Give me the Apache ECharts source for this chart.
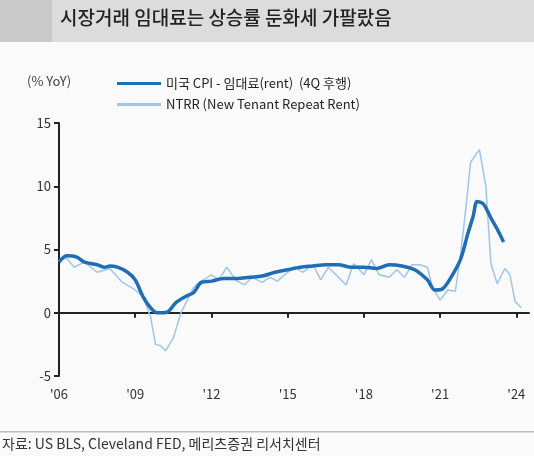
<!DOCTYPE html>
<html><head><meta charset="utf-8">
<script src="https://cdn.jsdelivr.net/npm/echarts@6/dist/echarts.min.js"></script>
<style>html,body{margin:0;padding:0;background:#fafafa}#c{width:534px;height:456px}</style>
</head><body><div id="c"></div>
<script>
const cpiYears=[2006.0,2006.3,2006.7,2007.0,2007.5,2007.8,2008.0,2008.3,2008.7,2009.0,2009.3,2009.6,2009.85,2010.0,2010.3,2010.6,2011.0,2011.3,2011.6,2012.0,2012.5,2013.0,2013.5,2014.0,2014.5,2015.0,2015.5,2016.0,2016.5,2017.0,2017.5,2018.0,2018.5,2019.0,2019.5,2020.0,2020.5,2020.8,2021.1,2021.4,2021.8,2022.1,2022.3,2022.46,2022.7,2023.0,2023.25,2023.5];
const cpiRent=[4.0,4.5,4.4,4.0,3.8,3.6,3.7,3.6,3.2,2.6,1.3,0.4,0.0,0.0,0.1,0.8,1.3,1.6,2.4,2.5,2.7,2.7,2.8,2.9,3.2,3.4,3.6,3.7,3.8,3.8,3.6,3.6,3.5,3.8,3.7,3.4,2.6,1.8,1.9,2.7,4.2,6.3,7.6,8.8,8.6,7.5,6.6,5.6];
const ntrrYears=[2006.0,2006.3,2006.6,2007.0,2007.5,2008.0,2008.5,2009.0,2009.3,2009.6,2009.8,2010.0,2010.2,2010.5,2010.8,2011.0,2011.3,2011.6,2012.0,2012.3,2012.6,2013.0,2013.3,2013.6,2014.0,2014.3,2014.6,2015.0,2015.3,2015.6,2016.0,2016.3,2016.6,2017.0,2017.3,2017.6,2018.0,2018.3,2018.6,2019.0,2019.3,2019.6,2019.9,2020.2,2020.5,2020.7,2021.0,2021.3,2021.6,2021.8,2022.0,2022.2,2022.55,2022.8,2023.0,2023.25,2023.55,2023.75,2023.95,2024.2];
const ntrr=[4.2,4.3,3.6,4.0,3.2,3.5,2.4,1.8,1.3,-0.3,-2.5,-2.6,-3.0,-2.0,0.0,0.8,2.0,2.5,3.0,2.6,3.6,2.5,2.2,2.8,2.4,2.8,2.5,3.2,3.6,3.2,3.8,2.6,3.6,2.8,2.2,3.9,3.0,4.2,3.0,2.8,3.4,2.8,3.8,3.8,3.6,2.0,1.0,1.8,1.7,4.5,8.0,11.9,12.9,10.0,3.9,2.3,3.5,3.0,0.9,0.4];
const seriesNames=['미국 CPI - 임대료(rent)  (4Q 후행)','NTRR (New Tenant Repeat Rent)'];
const xTickLabels={2006:"'06",2009:"'09",2012:"'12",2015:"'15",2018:"'18",2021:"'21",2024:"'24"};
const zip=(a,b)=>a.map((x,i)=>[x,b[i]]);
const ch=echarts.init(document.getElementById('c'));
const F='"Noto Sans CJK KR","Noto Sans",sans-serif';
ch.setOption({
  backgroundColor:'#fafafa',
  textStyle:{fontFamily:F},
  graphic:[
    {type:'rect',shape:{x:0,y:0,width:534,height:42},style:{fill:'#dcdcdc'}},
    {type:'rect',shape:{x:0,y:0,width:52,height:42},style:{fill:'#c9c9c9'}},
    {type:'text',left:60,top:8,style:{text:'시장거래 임대료는 상승률 둔화세 가팔랐음',font:'500 19px '+F,fill:'#222'}},
    {type:'text',left:27,top:75,style:{text:'(% YoY)',font:'13px '+F,fill:'#444'}},
    {type:'rect',shape:{x:0,y:431,width:534,height:1.5},style:{fill:'#bbb'}},
    {type:'text',left:2,top:437,style:{text:'자료: US BLS, Cleveland FED, 메리츠증권 리서치센터',font:'14px '+F,fill:'#333'}}
  ],
  legend:{orient:'vertical',left:112,top:72,itemWidth:44,itemHeight:3,itemGap:8,icon:'rect',
    textStyle:{fontSize:13,color:'#222',fontFamily:F},data:seriesNames},
  grid:{left:59,right:5,top:123,height:253},
  xAxis:{type:'value',min:2006,max:2024.5,interval:3,
    axisLine:{onZero:true,lineStyle:{color:'#222',width:2}},
    axisTick:{show:true,length:5,lineStyle:{color:'#222',width:2}},
    splitLine:{show:false},
    axisLabel:{showMaxLabel:false,color:'#333',fontSize:13,margin:12,formatter:v=>xTickLabels[v]||''}},
  yAxis:{type:'value',min:-5,max:15,interval:5,
    axisLine:{show:true,lineStyle:{color:'#222',width:2}},
    axisTick:{show:true,length:5,lineStyle:{color:'#222',width:2}},
    splitLine:{show:false},axisLabel:{color:'#333',fontSize:13}},
  series:[
    {name:seriesNames[0],type:'line',data:zip(cpiYears,cpiRent),showSymbol:false,smooth:0.3,z:3,
      lineStyle:{color:'#1f6db5',width:3.5},itemStyle:{color:'#1f6db5'}},
    {name:seriesNames[1],type:'line',data:zip(ntrrYears,ntrr),showSymbol:false,z:2,
      lineStyle:{color:'#9fc5ea',width:1.5},itemStyle:{color:'#9fc5ea'}}
  ]
});
</script></body></html>
